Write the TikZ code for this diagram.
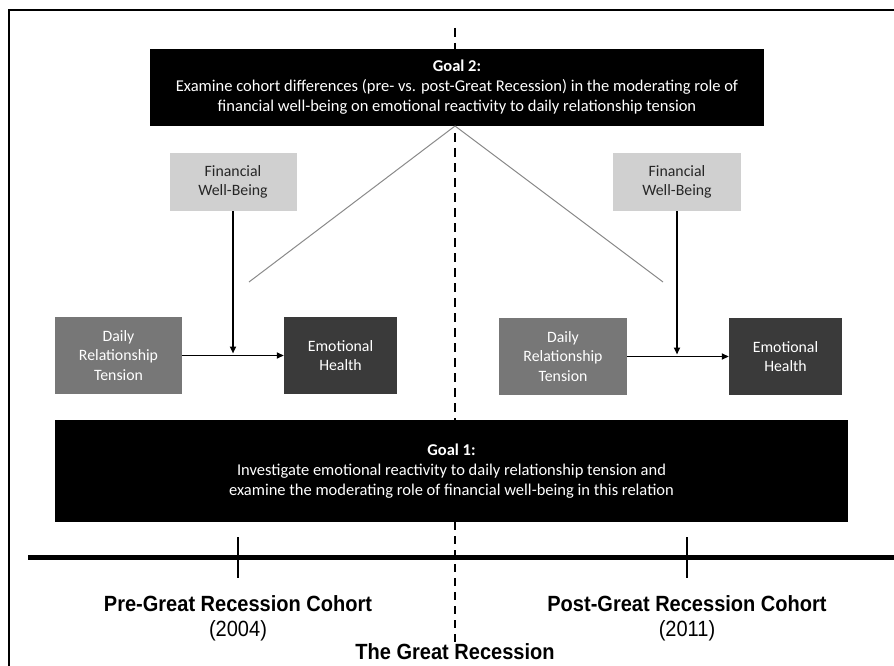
\documentclass[tikz,border=0pt]{standalone}
\usepackage{fontspec}
\setmainfont{Carlito}
\newfontfamily\narrowbold[FakeStretch=0.91]{Liberation Sans}
\usetikzlibrary{arrows.meta,calc}
\definecolor{fwbgray}{HTML}{D0D0D0}
\definecolor{drtgray}{HTML}{777777}
\definecolor{ehgray}{HTML}{3A3A3A}
\definecolor{diaggray}{HTML}{8A8A8A}
\tikzset{
  goalbox/.style={fill=black, text=white, align=center, inner sep=0pt, font=\fontsize{16.5}{20}\selectfont},
  varbox/.style={align=center, inner sep=0pt, font=\fontsize{15.8}{19.5}\selectfont},
  fwbbox/.style={varbox, fill=fwbgray, text=black!85, minimum width=127, minimum height=58},
  drtbox/.style={varbox, fill=drtgray, text=white, minimum width=127, minimum height=77},
  ehbox/.style={varbox, fill=ehgray, text=white, minimum width=113, minimum height=77},
  patharrow/.style={line width=1.8, -{Triangle[length=7pt,width=6pt]}},
  diagline/.style={diaggray, line width=1},
  cohortlabel/.style={align=center, inner sep=0pt, font=\narrowbold\fontsize{22}{25}\selectfont},
  tick/.style={line width=2.5}
}
\begin{document}
\begin{tikzpicture}[x=1pt,y=-1pt]
\useasboundingbox (0,0) rectangle (894,666);
\fill[white] (0,0) rectangle (894,666);
% frame
\draw[line width=1.5] (9,680) -- (9,10) -- (900,10);
% dashed recession line
\coordinate (dtop) at (455,28);
\coordinate (dmid) at (455,522);
\coordinate (dbot) at (455,642);
\draw[line width=2, dash pattern=on 9pt off 6pt] (dtop) -- (dmid);
\draw[line width=1.3, dash pattern=on 8pt off 6pt] (dmid) -- (dbot);
% goal 2
\node[goalbox, minimum width=614, minimum height=77] (goal2) at (457,87.5)
  {\textbf{Goal 2:}\\
   Examine cohort differences (pre- vs. post-Great Recession) in the moderating role of\\
   financial well-being on emotional reactivity to daily relationship tension};
% boxes
\node[fwbbox] (fwbL) at (233,182) {Financial\\Well-Being};
\node[fwbbox, minimum width=128] (fwbR) at (677,182) {Financial\\Well-Being};
\node[drtbox] (drtL) at (118.5,355.5) {Daily\\Relationship\\Tension};
\node[ehbox] (ehL) at (340.5,355.5) {Emotional\\Health};
\node[drtbox, minimum width=128] (drtR) at (563,356.5) {Daily\\Relationship\\Tension};
\node[ehbox] (ehR) at (785.5,356.5) {Emotional\\Health};
% arrows
\draw[patharrow] (drtL.east) -- (ehL.west);
\draw[patharrow] (drtR.east) -- (ehR.west);
\coordinate (jL) at ($(fwbL.south |- drtL.east)+(0,-2)$);
\coordinate (jR) at ($(fwbR.south |- drtR.east)+(0,-2)$);
\draw[patharrow] (fwbL.south) -- (jL);
\draw[patharrow] (fwbR.south) -- (jR);
% diagonals
\coordinate (apex) at (455,126);
\coordinate (dL) at (249,282);
\coordinate (dR) at (663,282);
\draw[diagline] (apex) -- (dL);
\draw[diagline] (apex) -- (dR);
% goal 1
\node[goalbox, minimum width=793, minimum height=102] (goal1) at (451.5,471)
  {\textbf{Goal 1:}\\
   Investigate emotional reactivity to daily relationship tension and\\
   examine the moderating role of financial well-being in this relation};
% timeline
\coordinate (tlA) at (28,557);
\coordinate (tlB) at (894,557);
\draw[line width=5] (tlA) -- (tlB);
\coordinate (tkLa) at (238,537); \coordinate (tkLb) at (238,578);
\coordinate (tkRa) at (687,537); \coordinate (tkRb) at (687,578);
\draw[tick] (tkLa) -- (tkLb);
\draw[tick] (tkRa) -- (tkRb);
% labels
\node[cohortlabel] (preL) at (238,618) {\textbf{Pre-Great Recession Cohort}\\(2004)};
\node[cohortlabel] (postL) at (687,618) {\textbf{Post-Great Recession Cohort}\\(2011)};
\node[cohortlabel] (grL) at (455,652) {\textbf{The Great Recession}};
\end{tikzpicture}
\end{document}
